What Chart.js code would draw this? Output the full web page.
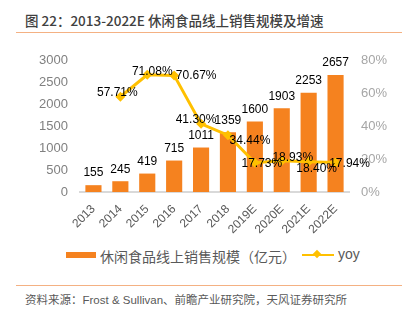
<!DOCTYPE html>
<html lang="zh">
<head>
<meta charset="UTF-8">
<title>休闲食品线上销售规模及增速</title>
<script src="https://cdn.jsdelivr.net/npm/chart.js"></script>
<style>
    body { margin: 0; width: 407px; height: 322px; position: relative; background: #fff; overflow: hidden;
           font-family: "Liberation Sans", "Noto Sans CJK SC", sans-serif; }
    #title { position: absolute; left: 25px; top: 11px; font-size: 13.5px; font-weight: 500; color: #404040; white-space: nowrap;
             font-family: "Noto Sans CJK SC", sans-serif; line-height: 18px; }
    .rule { position: absolute; left: 16px; width: 386px; height: 1px; background: #F4B183; }
    #chartBox { position: absolute; left: 0; top: 40px; width: 407px; height: 200px; }
    #legend { position: absolute; top: 246px; left: 0; width: 407px; height: 18px; font-size: 14px; color: #595959; }
    #legend span { position: absolute; white-space: nowrap; }
    #source { position: absolute; left: 25px; top: 291px; font-size: 11.5px; color: #595959; white-space: nowrap; }
</style>
</head>
<body>
<div id="title">图 22：2013-2022E 休闲食品线上销售规模及增速</div>
<div class="rule" style="top:32px"></div>

<div id="chartBox"><canvas id="myChart" width="407" height="200"></canvas></div>

<div id="legend">
    <span style="left:66px;top:6px;width:30px;height:6px;background:#F5821F"></span>
    <span style="left:100px;top:0">休闲食品线上销售规模（亿元）</span>
    <span style="left:302px;top:8px;width:32px;height:2px;background:#FFC000"></span>
    <span style="left:314px;top:5px;width:6px;height:6px;background:#FFC000;transform:rotate(45deg)"></span>
    <span style="left:338px;top:0">yoy</span>
</div>

<div class="rule" style="top:285px"></div>
<div id="source">资料来源：Frost &amp; Sullivan、前瞻产业研究院，天风证券研究所</div>

<script>
    const years = ['2013', '2014', '2015', '2016', '2017', '2018', '2019E', '2020E', '2021E', '2022E'];
    const sales = [155, 245, 419, 715, 1011, 1359, 1600, 1903, 2253, 2657];
    const yoy = [null, 57.71, 71.08, 70.67, 41.30, 34.44, 17.73, 18.93, 18.40, 17.94];

    // where each yoy label sits relative to its point (dx, dy in px)
    const yoyLabelShift = [null, [-3, -4], [5, -3], [22, 0], [-5, -4], [22, 6], [7, 1], [11, -3], [8, 7], [14, 1]];

    const ctx = document.getElementById('myChart');

    const labelPlugin = {
        id: 'valueLabels',
        afterDatasetsDraw(chart) {
            const c = chart.ctx;
            c.save();
            c.font = '12px "Liberation Sans", Arial, sans-serif';
            c.fillStyle = '#000';
            c.textAlign = 'center';
            c.textBaseline = 'middle';
            // dataset 1 = bars, dataset 0 = yoy line
            chart.getDatasetMeta(1).data.forEach((bar, i) => {
                c.fillText(String(sales[i]), bar.x, bar.y - 12);
            });
            chart.getDatasetMeta(0).data.forEach((pt, i) => {
                if (yoy[i] === null) return;
                const s = yoyLabelShift[i];
                c.fillText(yoy[i].toFixed(2) + '%', pt.x + s[0], pt.y + s[1]);
            });
            c.restore();
        }
    };

    const tickFont = {family: '"Liberation Sans", Arial, sans-serif', size: 13};

    new Chart(ctx, {
        type: 'bar',
        data: {
            labels: years,
            datasets: [
                {
                    type: 'line',
                    label: 'yoy',
                    data: yoy,
                    yAxisID: 'y1',
                    borderColor: '#FFC000',
                    backgroundColor: '#FFC000',
                    borderWidth: 3,
                    pointStyle: 'rectRot',
                    pointRadius: 5,
                    pointBorderWidth: 0,
                    tension: 0,
                    order: 1
                },
                {
                    label: '休闲食品线上销售规模（亿元）',
                    data: sales,
                    yAxisID: 'y',
                    backgroundColor: '#F5821F',
                    barPercentage: 0.6,
                    categoryPercentage: 1,
                    order: 2
                }
            ]
        },
        options: {
            responsive: false,
            animation: false,
            layout: {padding: {top: 20, left: 0, right: 0, bottom: 0}},
            plugins: {
                legend: {display: false},
                tooltip: {enabled: false}
            },
            scales: {
                x: {
                    offset: true,
                    grid: {display: false},
                    border: {display: true, color: '#D9D9D9', width: 2},
                    ticks: {
                        color: '#595959',
                        font: {family: tickFont.family, size: 12},
                        minRotation: 45,
                        maxRotation: 45,
                        padding: 2
                    },
                    afterFit(scale) { scale.height = 48; }
                },
                y: {
                    position: 'left',
                    min: 0,
                    max: 3000,
                    grid: {display: false, drawTicks: false},
                    border: {display: false},
                    ticks: {stepSize: 500, color: '#808080', font: tickFont, padding: 12,
                        callback: v => String(v)},
                    afterFit(scale) { scale.width = 80; }
                },
                y1: {
                    position: 'right',
                    min: 0,
                    max: 80,
                    grid: {display: false, drawTicks: false},
                    border: {display: false},
                    ticks: {stepSize: 10, color: '#A6A6A6', font: tickFont, padding: 12,
                        callback: v => v + '%'},
                    afterFit(scale) { scale.width = 58; }
                }
            }
        },
        plugins: [labelPlugin]
    });
</script>
</body>
</html>
